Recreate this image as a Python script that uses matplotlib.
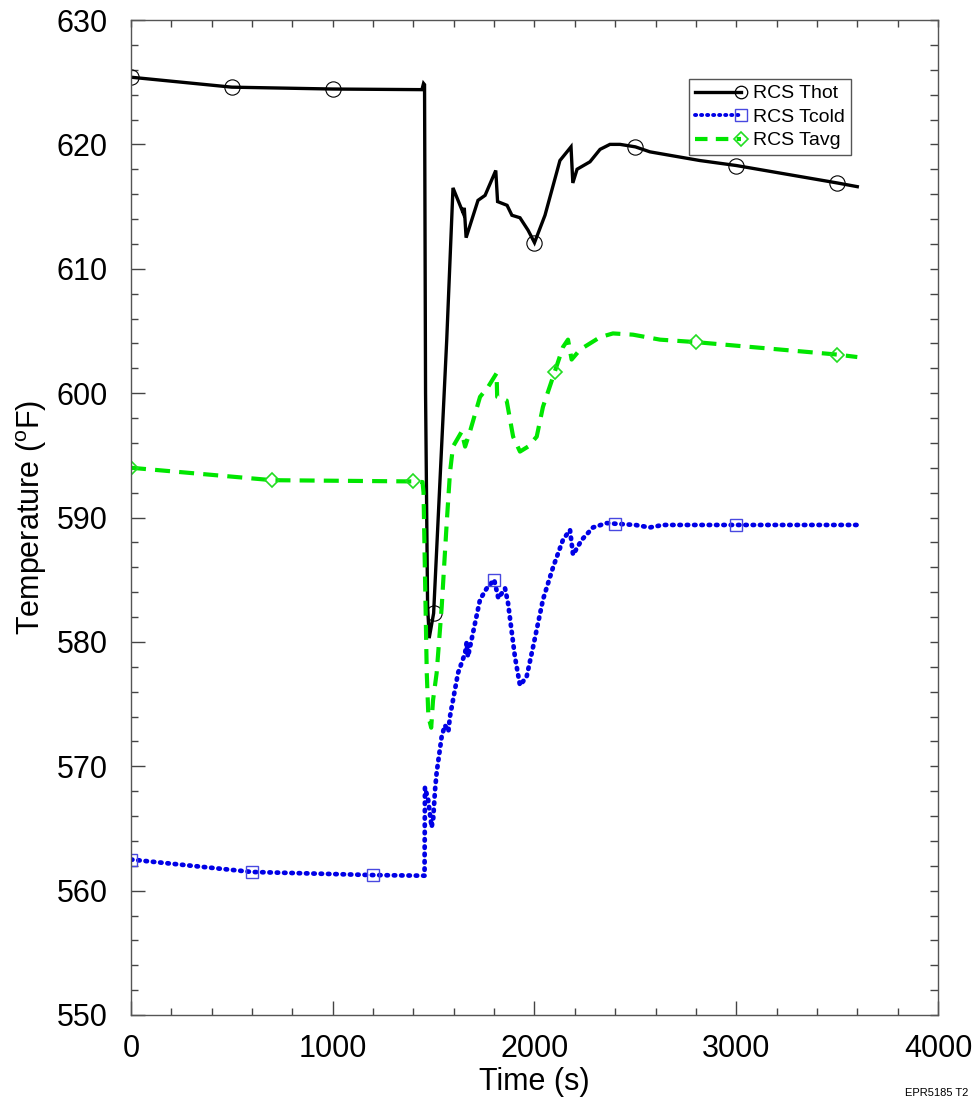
import matplotlib
matplotlib.use("Agg")
import matplotlib.pyplot as plt
from matplotlib.lines import Line2D
from matplotlib.legend_handler import HandlerBase
from matplotlib.ticker import MultipleLocator

plt.rcParams['font.family'] = ['Liberation Sans', 'DejaVu Sans']
plt.rcParams['mathtext.fontset'] = 'custom'
plt.rcParams['mathtext.rm'] = 'Liberation Sans'
plt.rcParams['mathtext.it'] = 'Liberation Sans'

# ---------------- data ----------------
thot_t = [0, 500, 1000, 1442, 1450, 1455, 1460, 1470, 1478, 1500, 1565, 1596, 1646,
          1652, 1661, 1720, 1755, 1808, 1817, 1864, 1888, 1928, 1968, 2000, 2052,
          2126, 2181, 2190, 2211, 2275, 2325, 2374, 2424, 2500, 2572, 2820, 3000,
          3500, 3600]
thot_v = [625.4, 624.6, 624.45, 624.4, 624.9, 624.8, 600.0, 583.0, 580.3, 582.3, 604.3,
          616.5, 614.5, 614.9, 612.5, 615.5, 615.9, 617.9, 615.4, 615.1, 614.3,
          614.1, 613.1, 612.1, 614.3, 618.7, 619.8, 616.9, 618.0, 618.6, 619.6,
          620.0, 620.0, 619.8, 619.4, 618.7, 618.3, 616.9, 616.6]
thot_marks = [0, 500, 1000, 1500, 2000, 2500, 3000, 3500]

tcold_t = [0, 600, 1200, 1455, 1457, 1473, 1490, 1498, 1507, 1515, 1540, 1556,
           1573, 1581, 1621, 1656, 1664, 1670, 1730, 1763, 1800, 1821, 1854, 1869,
           1903, 1928, 1961, 1993, 2042, 2092, 2141, 2176, 2191, 2234, 2290, 2358,
           2400, 2500, 2572, 2637, 3000, 3600]
tcold_v = [562.5, 561.5, 561.25, 561.2, 568.3, 567.3, 565.1, 565.8, 568.1, 569.5,
           572.4, 573.3, 572.8, 574.0, 577.5, 579.1, 580.0, 578.8, 583.4, 584.3,
           585.0, 583.5, 584.3, 583.1, 578.8, 576.5, 577.2, 579.6, 583.4, 586.0,
           588.2, 589.0, 587.0, 588.2, 589.2, 589.55, 589.5, 589.4, 589.2, 589.4,
           589.4, 589.4]
tcold_marks = [0, 600, 1200, 1800, 2400, 3000]

tavg_t = [0, 700, 1400, 1445, 1450, 1457, 1466, 1474, 1488, 1497, 1515, 1540, 1565,
          1581, 1596, 1639, 1656, 1680, 1730, 1770, 1812, 1815, 1862, 1894, 1928,
          1968, 2011, 2042, 2100, 2141, 2166, 2184, 2226, 2325, 2389, 2488, 2622,
          2800, 3500, 3600]
tavg_v = [594.0, 593.0, 592.9, 592.85, 592.0, 585.5, 577.5, 574.0, 573.1, 575.3,
          577.5, 582.8, 589.6, 593.6, 595.7, 596.9, 595.7, 596.9, 599.7, 600.5,
          601.6, 599.7, 599.4, 596.5, 595.3, 595.7, 596.5, 598.9, 601.7, 603.7,
          604.3, 602.7, 603.5, 604.5, 604.8, 604.7, 604.3, 604.1, 603.1, 602.9]
tavg_marks = [0, 700, 1400, 2100, 2800, 3500]

labels = ["RCS Thot", "RCS Tcold", "RCS Tavg"]

# ---------------- styles ----------------
c_hot, c_cold, c_avg = '#000000', '#0000e6', '#00e600'
mc_cold, mc_avg = '#4848e0', '#22dd22'

fig = plt.figure(figsize=(9.78, 11.06), dpi=100)
ax = fig.add_axes([131/978, 1-1015/1106, (938-131)/978, (1015-20)/1106])

def idx(ts, marks):
    return [ts.index(m) for m in marks]

ax.plot(thot_t, thot_v, color=c_hot, lw=2.4, solid_joinstyle='miter')
ax.plot([thot_t[i] for i in idx(thot_t, thot_marks)], [thot_v[i] for i in idx(thot_t, thot_marks)],
        ls='none', marker='o', ms=11, mfc='none', mec=c_hot, mew=0.8)

ax.plot(tcold_t, tcold_v, color=c_cold, lw=3.4, dashes=(0.3, 1.25), dash_capstyle='round')
ax.plot([tcold_t[i] for i in idx(tcold_t, tcold_marks)], [tcold_v[i] for i in idx(tcold_t, tcold_marks)],
        ls='none', marker='s', ms=8, mfc='none', mec=mc_cold, mew=1.0)

ax.plot(tavg_t, tavg_v, color=c_avg, lw=3.0, dashes=(3.6, 2.2))
ax.plot([tavg_t[i] for i in idx(tavg_t, tavg_marks)], [tavg_v[i] for i in idx(tavg_t, tavg_marks)],
        ls='none', marker='D', ms=7.5, mfc='none', mec=mc_avg, mew=1.2)

ax.set_xlim(0, 4000)
ax.set_ylim(550, 630)
ax.xaxis.set_major_locator(MultipleLocator(1000))
ax.xaxis.set_minor_locator(MultipleLocator(200))
ax.yaxis.set_major_locator(MultipleLocator(10))
ax.yaxis.set_minor_locator(MultipleLocator(2))
ax.tick_params(which='both', direction='in', colors='#444444', labelcolor='black',
               labelsize=22, top=False, right=False)
ax.tick_params(which='major', length=10, width=1)
ax.tick_params(which='minor', length=5, width=1)
ax.tick_params(axis='y', pad=17)
ax.tick_params(axis='x', pad=14)
for s in ax.spines.values():
    s.set_color('#555555')
    s.set_linewidth(1.0)

# top / right ticks of uniform small length
sec_x = ax.secondary_xaxis('top')
sec_x.xaxis.set_major_locator(MultipleLocator(200))
sec_x.tick_params(direction='in', length=5, width=1, colors='#444444', labeltop=False)
sec_x.spines['top'].set_visible(False)
sec_y = ax.secondary_yaxis('right')
sec_y.yaxis.set_major_locator(MultipleLocator(2))
sec_y.tick_params(direction='in', length=6, width=1, colors='#444444', labelright=False)
sec_y.spines['right'].set_visible(False)

ax.set_xlabel("Time (s)", fontsize=22, labelpad=2)
ax.set_ylabel("Temperature ($^{\\rm o}$F)", fontsize=22, labelpad=5)


class EndMarkerHandler(HandlerBase):
    def __init__(self, color, lw, dashes, marker, ms, mec, mew, capstyle='butt'):
        super().__init__()
        self.p = (color, lw, dashes, marker, ms, mec, mew, capstyle)

    def create_artists(self, legend, orig_handle, xdescent, ydescent, width, height,
                       fontsize, trans):
        color, lw, dashes, marker, ms, mec, mew, capstyle = self.p
        y = height / 2 - ydescent
        x0, x1 = -xdescent, width - xdescent
        ln = Line2D([x0, x1], [y, y], color=color, lw=lw, dash_capstyle=capstyle)
        if dashes is not None:
            ln.set_dashes(dashes)
        mk = Line2D([x1], [y], ls='none', marker=marker, ms=ms, mfc='none', mec=mec, mew=mew)
        ln.set_transform(trans)
        mk.set_transform(trans)
        return [ln, mk]


h1, h2, h3 = Line2D([], []), Line2D([], []), Line2D([], [])
leg = ax.legend([h1, h2, h3], labels,
                handler_map={
                    h1: EndMarkerHandler(c_hot, 2.4, None, 'o', 9, c_hot, 0.9),
                    h2: EndMarkerHandler(c_cold, 2.8, (0.3, 1.25), 's', 8, mc_cold, 1.0, 'round'),
                    h3: EndMarkerHandler(c_avg, 3.0, (3.0, 2.0), 'D', 7, mc_avg, 1.2)},
                loc='upper left', bbox_to_anchor=((689-131)/807, 1-(79-20)/995),
                fontsize=14, frameon=True, fancybox=False, framealpha=1,
                edgecolor='#555555', borderpad=0.3, labelspacing=0.3,
                handlelength=2.4, handletextpad=0.6, borderaxespad=0)
leg.get_frame().set_linewidth(1.0)

fig.text(968/978, 1-1093/1106, "EPR5185 T2", fontsize=8, ha='right', va='center')

fig.savefig("out.png", dpi=100)
